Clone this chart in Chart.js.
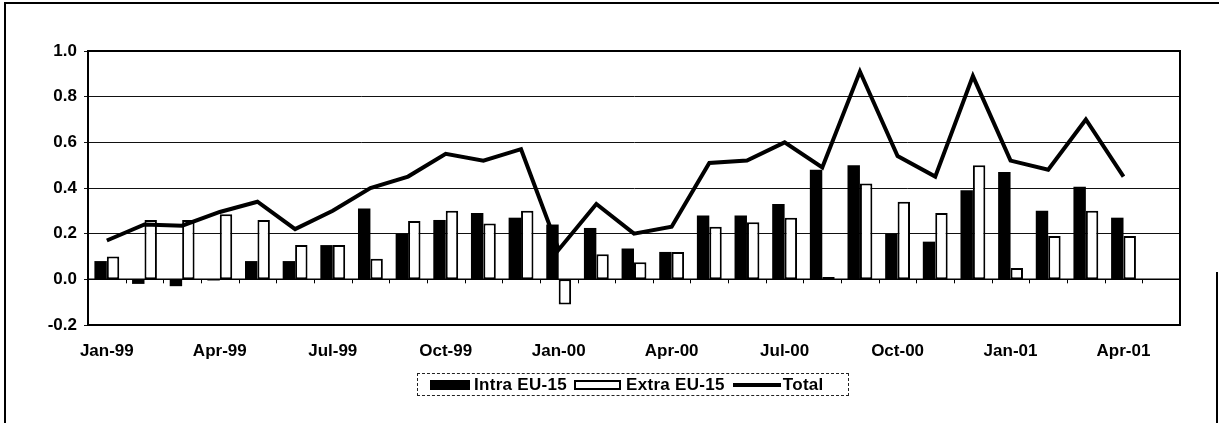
<!DOCTYPE html>
<html>
<head>
<meta charset="utf-8">
<script src="https://cdn.jsdelivr.net/npm/chart.js@4.4.0/dist/chart.umd.min.js"></script>
<style>
    html, body { margin: 0; padding: 0; background: #fff; }
    body { width: 1219px; height: 423px; position: relative; overflow: hidden; font-family: 'Liberation Sans', Arial, sans-serif; }
    #chartWrap { position: absolute; left: 0; top: 0; width: 1219px; height: 423px; }
    .frame { position: absolute; background: #000; }
    #legend {
        position: absolute; left: 417px; top: 373px; width: 430px; height: 21px;
        border: 1px dashed #222; display: flex; align-items: center;
        font-weight: bold; font-size: 17px; color: #000; white-space: nowrap; letter-spacing: 0.3px;
    }
    #legend .sw { display: inline-block; box-sizing: border-box; }
    #legend .item { display: flex; align-items: center; }
</style>
</head>
<body>
<div class="frame" style="left:4px; top:2px; width:1215px; height:2px;"></div>
<div class="frame" style="left:4px; top:2px; width:2px; height:421px;"></div>
<div class="frame" style="left:1216px; top:272px; width:2px; height:151px;"></div>
<div id="chartWrap"><canvas id="chartTrade" width="1219" height="423"></canvas></div>
<div id="legend">
    <div class="item" style="margin-left:12px;">
        <span class="sw" style="width:40px; height:10px; background:#000;"></span>
        <span style="margin-left:4px;">Intra EU-15</span>
    </div>
    <div class="item" style="margin-left:7px;">
        <span class="sw" style="width:47px; height:10px; background:#fff; border:2px solid #000;"></span>
        <span style="margin-left:5px;">Extra EU-15</span>
    </div>
    <div class="item" style="margin-left:8px;">
        <span class="sw" style="width:48px; height:4px; background:#000;"></span>
        <span style="margin-left:2px;">Total</span>
    </div>
</div>
<script>
// --- Data ---
// Monthly contributions, Jan-99 .. Apr-01 (May-01 slot is empty, as in the original)
const months = [
    'Jan-99', 'Feb-99', 'Mar-99', 'Apr-99', 'May-99', 'Jun-99', 'Jul-99', 'Aug-99', 'Sep-99', 'Oct-99', 'Nov-99', 'Dec-99',
    'Jan-00', 'Feb-00', 'Mar-00', 'Apr-00', 'May-00', 'Jun-00', 'Jul-00', 'Aug-00', 'Sep-00', 'Oct-00', 'Nov-00', 'Dec-00',
    'Jan-01', 'Feb-01', 'Mar-01', 'Apr-01', 'May-01'
];

const intraEU15 = [
    0.08, -0.02, -0.03, -0.005, 0.08, 0.08, 0.15, 0.31, 0.20, 0.26, 0.29, 0.27,
    0.24, 0.225, 0.135, 0.12, 0.28, 0.28, 0.33, 0.48, 0.50, 0.20, 0.165, 0.39,
    0.47, 0.30, 0.405, 0.27
];

const extraEU15 = [
    0.10, 0.26, 0.26, 0.285, 0.26, 0.15, 0.15, 0.09, 0.255, 0.30, 0.245, 0.30,
    -0.11, 0.11, 0.075, 0.12, 0.23, 0.25, 0.27, 0.01, 0.42, 0.34, 0.29, 0.50,
    0.05, 0.19, 0.30, 0.19
];

const total = [
    0.17, 0.24, 0.235, 0.295, 0.34, 0.22, 0.30, 0.40, 0.45, 0.55, 0.52, 0.57,
    0.13, 0.33, 0.20, 0.23, 0.51, 0.52, 0.60, 0.49, 0.91, 0.54, 0.45, 0.89,
    0.52, 0.48, 0.70, 0.45
];

const yTicks = { min: -0.2, max: 1.0, step: 0.2 };

// --- Chart ---
const tickFont = { family: "'Liberation Sans', Arial, sans-serif", size: 17, weight: 'bold' };

// plot frame (top/right), zero line and category ticks on the zero line
const plotFramePlugin = {
    id: 'plotFrame',
    afterDraw: (chart) => {
        const { ctx, chartArea: { left, right, top, bottom }, scales: { y } } = chart;
        const zeroY = y.getPixelForValue(0);
        const n = chart.data.labels.length;
        const step = (right - left) / n;

        ctx.save();
        ctx.strokeStyle = '#000';
        ctx.lineWidth = 2;
        ctx.beginPath();
        ctx.moveTo(left, top);
        ctx.lineTo(right, top);
        ctx.lineTo(right, bottom);
        ctx.stroke();

        ctx.lineWidth = 1.5;
        ctx.beginPath();
        ctx.moveTo(left, zeroY);
        ctx.lineTo(right, zeroY);
        ctx.stroke();

        ctx.lineWidth = 1;
        ctx.beginPath();
        for (let i = 0; i <= n; i++) {
            const x = Math.round(left + i * step) + 0.5;
            ctx.moveTo(x, zeroY);
            ctx.lineTo(x, zeroY + 4);
        }
        ctx.stroke();
        ctx.restore();
    }
};

new Chart(document.getElementById('chartTrade'), {
    type: 'bar',
    data: {
        labels: months,
        datasets: [
            {
                label: 'Total',
                type: 'line',
                data: total,
                borderColor: '#000',
                borderWidth: 4,
                pointRadius: 0,
                tension: 0,
                fill: false,
                order: 0
            },
            {
                label: 'Intra EU-15',
                data: intraEU15,
                backgroundColor: '#000',
                borderWidth: 0,
                barPercentage: 1.0,
                categoryPercentage: 0.66,
                order: 1
            },
            {
                label: 'Extra EU-15',
                data: extraEU15,
                backgroundColor: '#fff',
                borderColor: '#000',
                borderWidth: 2,
                borderSkipped: false,
                barPercentage: 1.0,
                categoryPercentage: 0.66,
                order: 1
            }
        ]
    },
    options: {
        responsive: false,
        animation: false,
        layout: { padding: { left: 0, right: 39, top: 51, bottom: 0 } },
        plugins: { legend: { display: false }, tooltip: { enabled: false } },
        scales: {
            x: {
                grid: { display: false, drawTicks: false },
                border: { display: true, color: '#000', width: 2 },
                ticks: {
                    autoSkip: false,
                    maxRotation: 0,
                    padding: 16,
                    color: '#000',
                    font: tickFont,
                    callback: function (value, index) {
                        return index % 3 === 0 ? this.getLabelForValue(value) : '';
                    }
                },
                afterFit: (scale) => { scale.height = 98; }
            },
            y: {
                min: yTicks.min,
                max: yTicks.max,
                grid: { color: '#111', lineWidth: 1, drawTicks: true, tickLength: 4 },
                border: { display: true, color: '#000', width: 2 },
                ticks: {
                    stepSize: yTicks.step,
                    padding: 7,
                    color: '#000',
                    font: tickFont,
                    callback: (v) => (Math.abs(v) < 1e-9 ? 0 : v).toFixed(1)
                },
                afterFit: (scale) => { scale.width = 88; }
            }
        }
    },
    plugins: [plotFramePlugin]
});
</script>
</body>
</html>
